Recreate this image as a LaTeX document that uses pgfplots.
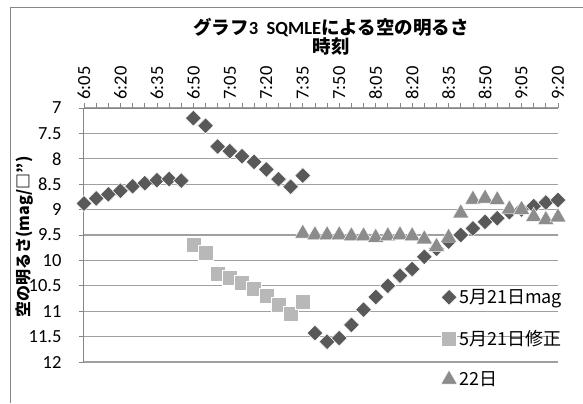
\documentclass[border=0pt]{standalone}
\usepackage{fontspec}
\usepackage{pgfplots}
\usepackage{pgfplotstable}
\pgfplotsset{compat=1.18}
\usetikzlibrary{calc}
\setmainfont{Carlito}
\newfontfamily\jp{Noto Sans CJK JP}

\definecolor{dia}{RGB}{89,89,89}
\definecolor{sq}{RGB}{184,184,184}
\definecolor{tri}{RGB}{140,140,140}
\definecolor{gridgray}{RGB}{160,160,160}
\definecolor{framegray}{RGB}{134,134,134}

% index: 0 = 6:05, one step = 5 minutes
\pgfplotstableread{
i  mag
0  8.88
1  8.78
2  8.70
3  8.63
4  8.54
5  8.48
6  8.42
7  8.40
8  8.43
9  7.20
10 7.35
11 7.76
12 7.85
13 7.95
14 8.06
15 8.21
16 8.40
17 8.55
18 8.33
19 11.43
20 11.60
21 11.53
22 11.27
23 10.97
24 10.72
25 10.50
26 10.30
27 10.17
28 9.93
29 9.77
30 9.63
31 9.50
32 9.37
33 9.24
34 9.17
35 9.05
36 9.00
37 8.93
38 8.86
39 8.81
}\magtable

\pgfplotstableread{
i  fix
9  9.70
10 9.85
11 10.26
12 10.34
13 10.44
14 10.55
15 10.70
16 10.88
17 11.04
18 10.82
}\fixtable

\pgfplotstableread{
i  d
18 9.47
19 9.50
20 9.50
21 9.50
22 9.52
23 9.52
24 9.55
25 9.52
26 9.50
27 9.52
28 9.58
29 9.73
30 9.55
31 9.07
32 8.80
33 8.78
34 8.81
35 8.99
36 9.00
37 9.14
38 9.20
39 9.15
}\daytable

\begin{document}
\begin{tikzpicture}[x=1bp,y=1bp]
\begin{axis}[
  scale only axis, width=474bp, height=254bp,
  xmin=0, xmax=39, ymin=7, ymax=12, y dir=reverse,
  axis line style={draw=none},
  xtick={0,3,...,39},
  xticklabels={6:05,6:20,6:35,6:50,7:05,7:20,7:35,7:50,8:05,8:20,8:35,8:50,9:05,9:20},
  minor xtick={0,...,39},
  ytick={7,7.5,...,12},
  xtick pos=upper, xticklabel pos=upper, ytick pos=left,
  tick align=outside,
  major tick length=5bp, minor tick length=5bp,
  every tick/.style={framegray, line width=0.8bp},
  minor tick style={framegray, line width=0.8bp},
  ymajorgrids, grid style={gridgray, line width=1.1bp},
  xticklabel style={rotate=90, anchor=west, font=\fontsize{18.5bp}{20bp}\selectfont},
  yticklabel style={anchor=east, xshift=-14bp, font=\fontsize{18.5bp}{20bp}\selectfont,
    /pgf/number format/fixed, /pgf/number format/precision=1,
    /pgf/number format/assume math mode=true},
  unbounded coords=discard,
  clip=false,
  legend style={at={(axis cs:29.35,10.53)}, anchor=north west,
    draw=none, fill=none, inner sep=0pt,
    font=\jp\fontsize{18bp}{20bp}\selectfont,
    row sep=21bp},
  legend cell align=left,
  legend image code/.code={\draw[mark repeat=2,mark phase=2]
    plot coordinates {(0bp,0bp)(6bp,0bp)(12bp,0bp)};},
]
\coordinate (tl) at (axis cs:0,7);
\draw[framegray, line width=1bp] (axis cs:0,12) -- (axis cs:0,7) -- (axis cs:39,7);
\addplot[only marks, mark=square*, mark size=5.6bp,
  mark options={rotate=45, fill=dia, draw=white, line width=0.5bp}]
  table[x=i, y=mag] {\magtable};
\addlegendentry{5月21日mag}
\addplot[only marks, mark=square*, mark size=7.5bp,
  mark options={fill=sq, draw=white, line width=0.4bp}]
  table[x=i, y=fix] {\fixtable};
\addlegendentry{5月21日修正}
\addplot[only marks, mark=triangle*, mark size=9.4bp,
  mark options={fill=tri, draw=white, line width=0.4bp}]
  table[x=i, y=d] {\daytable};
\addlegendentry{22日}
\end{axis}
% page frame, titles and the vertical axis title, in page units from the top-left corner
\begin{scope}[shift={($(tl)+(-84,108)$)}]
\draw[framegray, line width=1bp] (11,-403) -- (11,-7) -- (583,-7);
\node[font=\fontsize{18.5bp}{20bp}\selectfont\bfseries] at (331,-28)
  {{\jp グラフ}3\ \ SQMLE{\jp による空の明るさ}};
\node[font=\jp\fontsize{18.5bp}{20bp}\selectfont\bfseries] at (331,-46) {時刻};
\node[font=\jp\fontsize{16bp}{18bp}\selectfont\bfseries, rotate=90] at (25,-237)
  {空の明るさ(mag/□”)};
\pgfresetboundingbox
\useasboundingbox (0,-403) rectangle (583,0);
\end{scope}
\end{tikzpicture}
\end{document}
